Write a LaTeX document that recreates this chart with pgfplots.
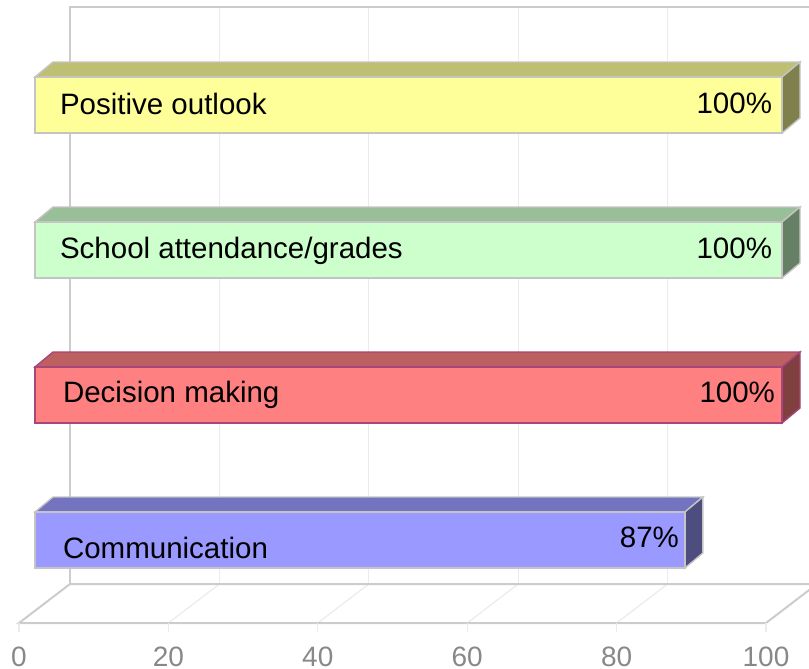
\documentclass[border=0pt]{standalone}
\usepackage{pgfplots}
\pgfplotsset{compat=1.18}
\usepackage{fontspec}
\setmainfont{Liberation Sans}
\definecolor{yfront}{HTML}{FFFF99}\definecolor{ytop}{HTML}{BFBF73}\definecolor{yside}{HTML}{80804D}
\definecolor{gfront}{HTML}{CCFFCC}\definecolor{gtop}{HTML}{99BF99}\definecolor{gside}{HTML}{668066}
\definecolor{rfront}{HTML}{FF8080}\definecolor{rtop}{HTML}{BF6060}\definecolor{rside}{HTML}{804040}
\definecolor{bfront}{HTML}{9999FF}\definecolor{btop}{HTML}{7373BF}\definecolor{bside}{HTML}{4D4D80}
\definecolor{edge}{HTML}{C4C4C4}\definecolor{redge}{HTML}{A8457A}
\definecolor{wall}{HTML}{CCCCCC}\definecolor{gridc}{HTML}{EBEBEB}\definecolor{tickc}{HTML}{888888}
\tikzset{lbl/.style={inner sep=0pt, outer sep=0pt, font=\fontsize{14.75}{16}\selectfont}}
\begin{document}
\begin{tikzpicture}
\begin{axis}[
  x=3.735pt, y=0.5pt, y dir=reverse,
  xmin=-4.685, xmax=103.614, ymin=0, ymax=669,
  hide axis, clip=true,
]
\path (rel axis cs:0,0) rectangle (rel axis cs:1,1);
% back wall
\foreach \k in {20,40,60,80} {
  \edef\tmp{\noexpand\draw[gridc, line width=0.6pt] (axis cs:\k+4.685,7) -- (axis cs:\k+4.685,584);}\tmp
}
\draw[wall, line width=1pt] (axis cs:4.685,584) -- (axis cs:4.685,7) -- (axis cs:104.685,7) -- (axis cs:104.685,584);
% floor
\foreach \k in {20,40,60,80} {
  \edef\tmp{\noexpand\draw[gridc, line width=0.6pt] (axis cs:\k-2.142,623) -- (axis cs:\k+4.685,584);}\tmp
}
\draw[wall, line width=1pt] (axis cs:-2.142,623) -- (axis cs:4.685,584) -- (axis cs:104.685,584) -- (axis cs:97.858,623) -- cycle;
\foreach \k in {0,20,40,60,80,100} {
  \edef\tmp{\noexpand\draw[gridc, line width=0.6pt] (axis cs:\k-2.142,623) -- (axis cs:\k-2.142,632);}\tmp
}
% Positive outlook (100)
\addplot[fill=ytop, draw=edge, line width=0.7pt] coordinates {(0,77) (2.41,62) (102.41,62) (100,77)} -- cycle;
\addplot[fill=yside, draw=edge, line width=0.7pt] coordinates {(100,77) (102.41,62) (102.41,118) (100,133)} -- cycle;
\addplot[xbar, bar shift=0pt, bar width=28pt, fill=yfront, draw=edge, line width=0.7pt] coordinates {(100,105)};
% School attendance/grades (100)
\addplot[fill=gtop, draw=edge, line width=0.7pt] coordinates {(0,222) (2.41,207) (102.41,207) (100,222)} -- cycle;
\addplot[fill=gside, draw=edge, line width=0.7pt] coordinates {(100,222) (102.41,207) (102.41,263) (100,278)} -- cycle;
\addplot[xbar, bar shift=0pt, bar width=28pt, fill=gfront, draw=edge, line width=0.7pt] coordinates {(100,250)};
% Decision making (100)
\addplot[fill=rtop, draw=redge, line width=0.7pt] coordinates {(0,367) (2.41,352) (102.41,352) (100,367)} -- cycle;
\addplot[fill=rside, draw=redge, line width=0.7pt] coordinates {(100,367) (102.41,352) (102.41,408) (100,423)} -- cycle;
\addplot[xbar, bar shift=0pt, bar width=28pt, fill=rfront, draw=redge, line width=0.7pt] coordinates {(100,395)};
% Communication (87)
\addplot[fill=btop, draw=edge, line width=0.7pt] coordinates {(0,512) (2.41,497) (89.41,497) (87,512)} -- cycle;
\addplot[fill=bside, draw=edge, line width=0.7pt] coordinates {(87,512) (89.41,497) (89.41,553) (87,568)} -- cycle;
\addplot[xbar, bar shift=0pt, bar width=28pt, fill=bfront, draw=edge, line width=0.7pt] coordinates {(87,540)};
% labels
\node[lbl, anchor=base west] at (axis cs:3.35,114) {Positive outlook};
\node[lbl, anchor=base west] at (axis cs:3.35,258) {School attendance/grades};
\node[lbl, anchor=base west] at (axis cs:3.75,402) {Decision making};
\node[lbl, anchor=base west] at (axis cs:3.75,558) {Communication};
\node[lbl, anchor=base east] at (axis cs:98.66,113) {100\%};
\node[lbl, anchor=base east] at (axis cs:98.66,258) {100\%};
\node[lbl, anchor=base east] at (axis cs:99.06,402) {100\%};
\node[lbl, anchor=base east] at (axis cs:86.2,547) {87\%};
% tick labels
\foreach \k in {0,20,40,60,80,100} {
  \edef\tmp{\noexpand\node[anchor=base, inner sep=0pt, text=tickc, font=\noexpand\fontsize{14}{16}\noexpand\selectfont] at (axis cs:\k-2.142,666) {\k};}\tmp
}
\end{axis}
\end{tikzpicture}
\end{document}
